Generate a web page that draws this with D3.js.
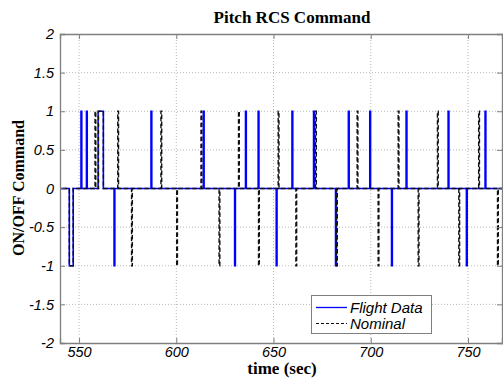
<!DOCTYPE html>
<html>
<head>
<meta charset="utf-8">
<script src="https://cdn.jsdelivr.net/npm/d3@7"></script>
<style>
  html, body { margin: 0; padding: 0; background: #fff; }
  svg { display: block; }
</style>
</head>
<body>
<svg id="chart" width="503" height="378"></svg>
<script>
// Thruster firing pulses: [start time (s), end time (s), command level]
const flightPulses = [
  [545.0, 547.0, -1], [551.0, 551.4, 1], [553.8, 554.2, 1], [559.8, 562.5, 1],
  [568.0, 568.4, -1], [587.0, 587.4, 1], [613.9, 614.3, 1], [630.0, 630.4, -1],
  [635.6, 636.0, 1], [642.1, 642.5, 1], [651.4, 651.8, -1], [659.5, 659.9, 1],
  [670.6, 671.0, 1], [681.9, 682.3, -1], [688.5, 688.9, 1], [699.5, 699.9, 1],
  [710.7, 711.1, -1], [718.2, 718.6, 1], [739.8, 740.2, 1], [749.2, 749.6, -1],
  [758.8, 759.2, 1]
];
const nominalPulses = [
  [545.0, 547.0, -1], [558.2, 558.6, 1], [560.0, 562.5, 1], [569.9, 570.3, 1],
  [577.0, 577.4, -1], [592.1, 592.5, 1], [600.2, 600.6, -1], [612.7, 613.1, 1],
  [622.0, 622.4, -1], [632.0, 632.4, 1], [642.3, 642.7, -1], [652.4, 652.8, 1],
  [661.5, 661.9, -1], [671.6, 672.0, 1], [682.4, 682.8, -1], [693.0, 693.4, 1],
  [703.8, 704.2, -1], [714.1, 714.5, 1], [724.4, 724.8, -1], [734.3, 734.7, 1],
  [745.3, 745.7, -1], [755.5, 755.9, 1], [765.2, 765.6, -1]
];
const timeStart = 538, timeEnd = 770;
const xTicks = [550, 600, 650, 700, 750];
const yTicks = [-2, -1.5, -1, -0.5, 0, 0.5, 1, 1.5, 2];
const seriesNames = ["Flight Data", "Nominal"];

const svg = d3.select("#chart");
const plotLeft = 60, plotRight = 502, plotTop = 34, plotBottom = 343;
const x = d3.scaleLinear().domain([540.2, 767.5]).range([plotLeft, plotRight]);
const y = d3.scaleLinear().domain([-2, 2]).range([plotBottom, plotTop]);

// Turn a pulse list into a step trace of (time, level) points
function toSteps(pulses) {
  const pts = [[timeStart, 0]];
  pulses.forEach(([t0, t1, v]) => { pts.push([t0, v]); pts.push([t1, 0]); });
  pts.push([timeEnd, 0]);
  return pts;
}

svg.append("defs").append("clipPath").attr("id", "plot-clip")
  .append("rect").attr("x", plotLeft).attr("y", plotTop - 1)
  .attr("width", plotRight - plotLeft).attr("height", plotBottom - plotTop + 2);

// Grid
const grid = svg.append("g");
xTicks.forEach(t => grid.append("line")
  .attr("x1", x(t)).attr("x2", x(t)).attr("y1", plotTop).attr("y2", plotBottom)
  .attr("stroke", "#b8b8b8").attr("stroke-width", 1).attr("stroke-dasharray", "1,2"));
yTicks.filter(t => t > -2 && t < 2).forEach(t => grid.append("line")
  .attr("x1", plotLeft).attr("x2", plotRight).attr("y1", y(t)).attr("y2", y(t))
  .attr("stroke", "#b8b8b8").attr("stroke-width", 1).attr("stroke-dasharray", "1,2"));

// Traces
const line = d3.line().x(d => x(d[0])).y(d => y(d[1])).curve(d3.curveStepAfter);
const plot = svg.append("g").attr("clip-path", "url(#plot-clip)");
plot.append("path").datum(toSteps(flightPulses))
  .attr("d", line).attr("fill", "none").attr("stroke", "#0000ff").attr("stroke-width", 1.6);
plot.append("path").datum(toSteps(nominalPulses))
  .attr("d", line).attr("fill", "none").attr("stroke", "#111").attr("stroke-width", 1.4)
  .attr("stroke-dasharray", "4.5,2.5");

// Axes box with inward ticks on all sides
const axisColor = "#7f7f7f";
const fmt = d => String(d);
const gB = svg.append("g").attr("transform", `translate(0,${plotBottom})`)
  .call(d3.axisBottom(x).tickValues(xTicks).tickSize(-5).tickPadding(4).tickFormat(fmt));
const gT = svg.append("g").attr("transform", `translate(0,${plotTop})`)
  .call(d3.axisTop(x).tickValues(xTicks).tickSize(-5).tickFormat(""));
const gL = svg.append("g").attr("transform", `translate(${plotLeft},0)`)
  .call(d3.axisLeft(y).tickValues(yTicks).tickSize(-5).tickPadding(6).tickFormat(fmt));
const gR = svg.append("g").attr("transform", `translate(${plotRight},0)`)
  .call(d3.axisRight(y).tickValues(yTicks).tickSize(-5).tickFormat(""));
[gB, gT, gL, gR].forEach(g => {
  g.select(".domain").attr("stroke", axisColor).attr("stroke-width", 1.3);
  g.selectAll(".tick line").attr("stroke", axisColor);
  g.selectAll("text").attr("font-family", "Liberation Sans, Arial, sans-serif")
    .attr("font-style", "italic").attr("font-size", 14.5).attr("fill", "#000");
});

// Titles
const serif = "Liberation Serif, Times New Roman, serif";
svg.append("text").attr("x", 292).attr("y", 23).attr("text-anchor", "middle")
  .attr("font-family", serif).attr("font-weight", "bold").attr("font-size", 17)
  .text("Pitch RCS Command");
svg.append("text").attr("x", 282).attr("y", 374).attr("text-anchor", "middle")
  .attr("font-family", serif).attr("font-weight", "bold").attr("font-size", 17)
  .text("time (sec)");
svg.append("text").attr("transform", "translate(24,188) rotate(-90)")
  .attr("text-anchor", "middle")
  .attr("font-family", serif).attr("font-weight", "bold").attr("font-size", 16)
  .text("ON/OFF Command");

// Legend
const lg = svg.append("g");
lg.append("rect").attr("x", 311.5).attr("y", 295.5).attr("width", 120).attr("height", 38)
  .attr("fill", "#fff").attr("stroke", axisColor).attr("stroke-width", 1);
const legendStyles = [
  { color: "#0000ff", dash: null, width: 1.3 },
  { color: "#111", dash: "3,2", width: 1 }
];
seriesNames.forEach((name, i) => {
  const yy = 307.5 + i * 16;
  lg.append("line").attr("x1", 316).attr("x2", 347).attr("y1", yy).attr("y2", yy)
    .attr("stroke", legendStyles[i].color).attr("stroke-width", legendStyles[i].width)
    .attr("stroke-dasharray", legendStyles[i].dash);
  lg.append("text").attr("x", 350).attr("y", yy + 5)
    .attr("font-family", "Liberation Sans, Arial, sans-serif").attr("font-style", "italic")
    .attr("font-size", 15).text(name);
});
</script>
</body>
</html>
